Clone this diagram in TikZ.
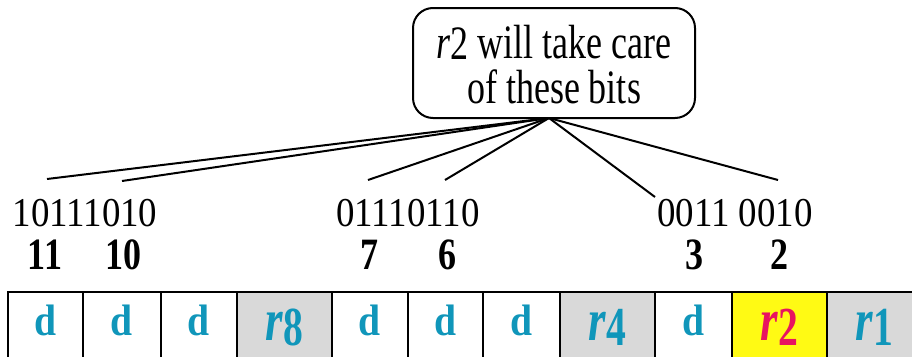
\documentclass[tikz,border=0pt]{standalone}
\usepackage{fontspec}
\setmainfont{Liberation Serif}
\usepackage{graphicx}
\definecolor{celltxt}{RGB}{16,150,186}
\definecolor{celltwo}{RGB}{232,20,96}
\definecolor{cellgray}{RGB}{217,217,217}
\definecolor{cellyellow}{RGB}{255,250,20}
\newcommand\hs[1]{\scalebox{0.9}[1]{#1}}
\newcommand\hn[1]{\scalebox{0.9}[1.12]{#1}}
\newcommand\regname[1]{\raisebox{-5pt}[\height][\depth]{\scalebox{0.9}[1.2]{\fontsize{50}{50}\selectfont\bfseries\itshape r}}\raisebox{-10pt}[\height][\depth]{\scalebox{0.9}[1.25]{\fontsize{44}{44}\selectfont\bfseries #1}}}
\begin{document}
\begin{tikzpicture}[x=1pt,y=-1pt,
  note/.style={draw, line width=2pt, rounded corners=20pt, minimum width=282pt, minimum height=110pt, inner sep=0pt, align=center},
  bits/.style={font=\fontsize{41}{41}\selectfont, inner sep=0pt, anchor=base},
  num/.style={font=\fontsize{40}{40}\selectfont\bfseries, inner sep=0pt, anchor=base},
  cell/.style={draw, line width=1.6pt, minimum height=70pt, inner sep=0pt, text height=30pt, text depth=14pt, text=celltxt, font=\fontsize{44}{44}\selectfont\bfseries},
  dcell/.style={cell, fill=white},
  rcell/.style={cell, fill=cellgray},
  wire/.style={line width=2pt}]
\clip (0,0) rectangle (912,356);
\fill[white] (0,0) rectangle (912,356);
% callout
\node[note] (note) at (554,63) {\raisebox{-7pt}[\height][\depth]{\scalebox{0.9}[1.2]{\fontsize{40}{31}\selectfont\begin{tabular}{@{}c@{}}{\itshape r}\raisebox{-1pt}{2} will take care\\of these bits\end{tabular}}}};
\coordinate (hub) at (549,118);
% bit strings
\node[bits] (b1) at (85,226) {\hs{10111010}};
\node[bits] (b2) at (408,226) {\hs{01110110}};
\node[bits] (b3) at (735,226) {\hs{0011 0010}};
% bit numbers
\node[num] (n11) at (45,269) {\hn{11}};
\node[num] (n10) at (123,269) {\hn{10}};
\node[num] (n7) at (369,269) {\hn{7}};
\node[num] (n6) at (447,269) {\hn{6}};
\node[num] (n3) at (694,269) {\hn{3}};
\node[num] (n2) at (779,269) {\hn{2}};
% connector ends
\coordinate (e1) at (47,179);
\coordinate (e2) at (122,181);
\coordinate (e3) at (368,180);
\coordinate (e4) at (445,180);
\coordinate (e5) at (655,197);
\coordinate (e6) at (778,180);
\foreach \e in {e1,e2,e3,e4,e5,e6} \draw[wire] (hub) -- (\e);
% cells
\node[dcell, minimum width=75pt] (c1) at (45.5,327) {\hs{d}};
\node[dcell, minimum width=78pt] (c2) at (122,327) {\hs{d}};
\node[dcell, minimum width=76pt] (c3) at (199,327) {\hs{d}};
\node[rcell, minimum width=95pt] (c4) at (284.5,327) {\regname{8}};
\node[dcell, minimum width=76pt] (c5) at (370,327) {\hs{d}};
\node[dcell, minimum width=75pt] (c6) at (445.5,327) {\hs{d}};
\node[dcell, minimum width=77pt] (c7) at (521.5,327) {\hs{d}};
\node[rcell, minimum width=95pt] (c8) at (607.5,327) {\regname{4}};
\node[dcell, minimum width=77pt] (c9) at (693.5,327) {\hs{d}};
\node[rcell, fill=cellyellow, text=celltwo, minimum width=95pt] (c10) at (779.5,327) {\regname{2}};
\node[rcell, minimum width=95pt] (c11) at (874.5,327) {\regname{1}};
\end{tikzpicture}
\end{document}
